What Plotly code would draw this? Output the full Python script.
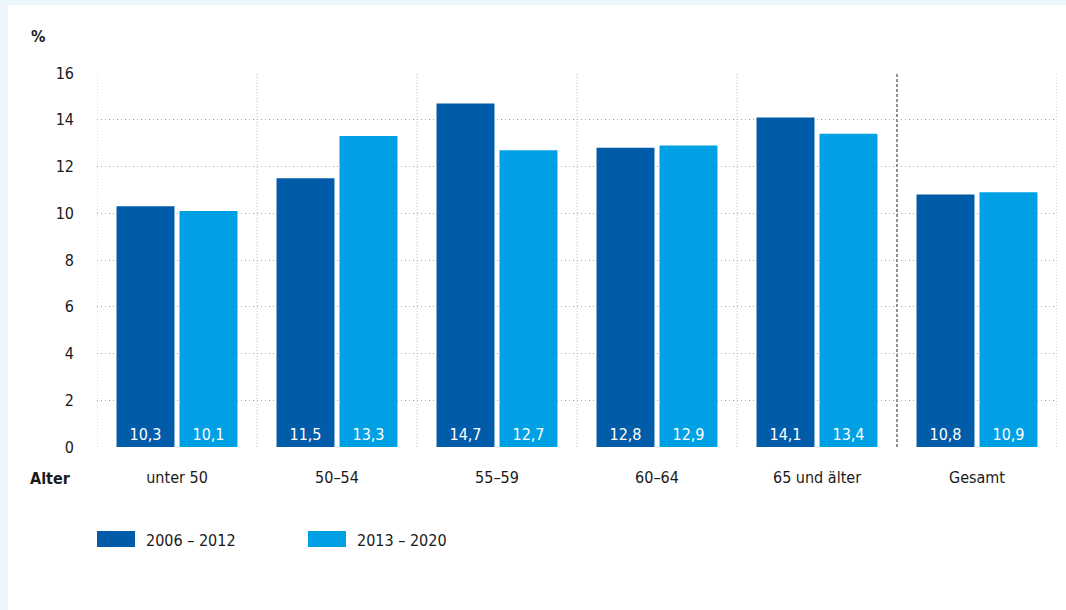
import plotly.graph_objects as go

# Altersgruppen und Anteile in Prozent
categories = ["unter 50", "50–54", "55–59", "60–64", "65 und älter", "Gesamt"]
series_names = ["2006 – 2012", "2013 – 2020"]
values_2006_2012 = [10.3, 11.5, 14.7, 12.8, 14.1, 10.8]
values_2013_2020 = [10.1, 13.3, 12.7, 12.9, 13.4, 10.9]
y_ticks = [0, 2, 4, 6, 8, 10, 12, 14, 16]

DARK = "#005ca9"
LIGHT = "#00a1e4"
PANEL_EDGE = "#eaf5fc"
TEXT = "#1a1a1a"
FONT = "DejaVu Sans Condensed, Roboto, sans-serif"
FS = 16

W, H = 1066, 610
ML, MR, MT, MB = 97, 9, 73, 163

fig = go.Figure()
for name, vals, col in [(series_names[0], values_2006_2012, DARK),
                        (series_names[1], values_2013_2020, LIGHT)]:
    fig.add_trace(go.Bar(
        x=categories, y=vals, name=name, marker=dict(color=col, line=dict(width=0)),
        texttemplate="%{y:.1f}", textposition="inside", insidetextanchor="start",
        textfont=dict(color="white", size=FS, family=FONT), textangle=0,
        cliponaxis=False, showlegend=False,
    ))

pw = W - ML - MR
ph = H - MT - MB

shapes = []
# hellblauer Rand oben und links
shapes.append(dict(type="rect", xref="paper", yref="paper",
                   x0=-ML / pw, x1=(W - ML) / pw,
                   y0=(H - MB - 5) / ph, y1=(H - MB) / ph,
                   fillcolor=PANEL_EDGE, line=dict(width=0), layer="below"))
shapes.append(dict(type="rect", xref="paper", yref="paper",
                   x0=-ML / pw, x1=(8 - ML) / pw,
                   y0=-MB / ph, y1=(H - MB) / ph,
                   fillcolor=PANEL_EDGE, line=dict(width=0), layer="below"))

# senkrechte Trennlinien zwischen den Gruppen
n = len(categories)
for i in range(n + 1):
    xb = i - 0.5
    if i == n - 1:
        shapes.append(dict(type="line", xref="x", yref="y", x0=xb, x1=xb,
                           y0=0, y1=y_ticks[-1],
                           line=dict(color="#555555", width=1.3, dash="3px,2px"),
                           layer="below"))
    else:
        shapes.append(dict(type="line", xref="x", yref="y", x0=xb, x1=xb,
                           y0=0, y1=y_ticks[-1],
                           line=dict(color="#bbbbbb", width=1, dash="1px,2px"),
                           layer="below"))

# Legende
legend_items = [(series_names[0], DARK, 97), (series_names[1], LIGHT, 308)]
annotations = []
for name, col, x0 in legend_items:
    shapes.append(dict(type="rect", xref="paper", yref="paper",
                       x0=(x0 - ML) / pw, x1=(x0 + 38 - ML) / pw,
                       y0=(H - MB - 547) / ph, y1=(H - MB - 531) / ph,
                       fillcolor=col, line=dict(width=0)))
    annotations.append(dict(text=name, xref="paper", yref="paper",
                            x=(x0 + 47 - ML) / pw, y=(H - MB - 540) / ph,
                            xanchor="left", yanchor="middle", showarrow=False,
                            font=dict(size=FS, color=TEXT, family=FONT)))

annotations.append(dict(text="<b>%</b>", xref="paper", yref="paper",
                        x=(29 - ML) / pw, y=(H - MB - 36) / ph,
                        xanchor="left", yanchor="middle", showarrow=False,
                        font=dict(size=FS, color=TEXT, family=FONT)))
annotations.append(dict(text="<b>Alter</b>", xref="paper", yref="paper",
                        x=(73 - ML) / pw, y=(H - MB - 479) / ph,
                        xanchor="right", yanchor="middle", showarrow=False,
                        font=dict(size=FS, color=TEXT, family=FONT)))

fig.update_layout(
    width=W, height=H,
    margin=dict(l=ML, r=MR, t=MT, b=MB),
    paper_bgcolor="white", plot_bgcolor="white",
    separators=",.",
    barmode="group", bargap=0.2125, bargroupgap=0.08,
    font=dict(family=FONT, size=FS, color=TEXT),
    shapes=shapes, annotations=annotations,
    xaxis=dict(showgrid=False, showline=False, zeroline=False, ticks="",
               ticklabelstandoff=19, tickfont=dict(size=FS, color=TEXT),
               range=[-0.5, n - 0.5]),
    yaxis=dict(range=[0, 16], tickvals=y_ticks, showgrid=True,
               gridcolor="#a8a8a8", griddash="1px,3px", gridwidth=1,
               zeroline=False, showline=False, ticks="",
               ticklabelstandoff=22, tickfont=dict(size=FS, color=TEXT)),
)

fig.write_html("out.html")
